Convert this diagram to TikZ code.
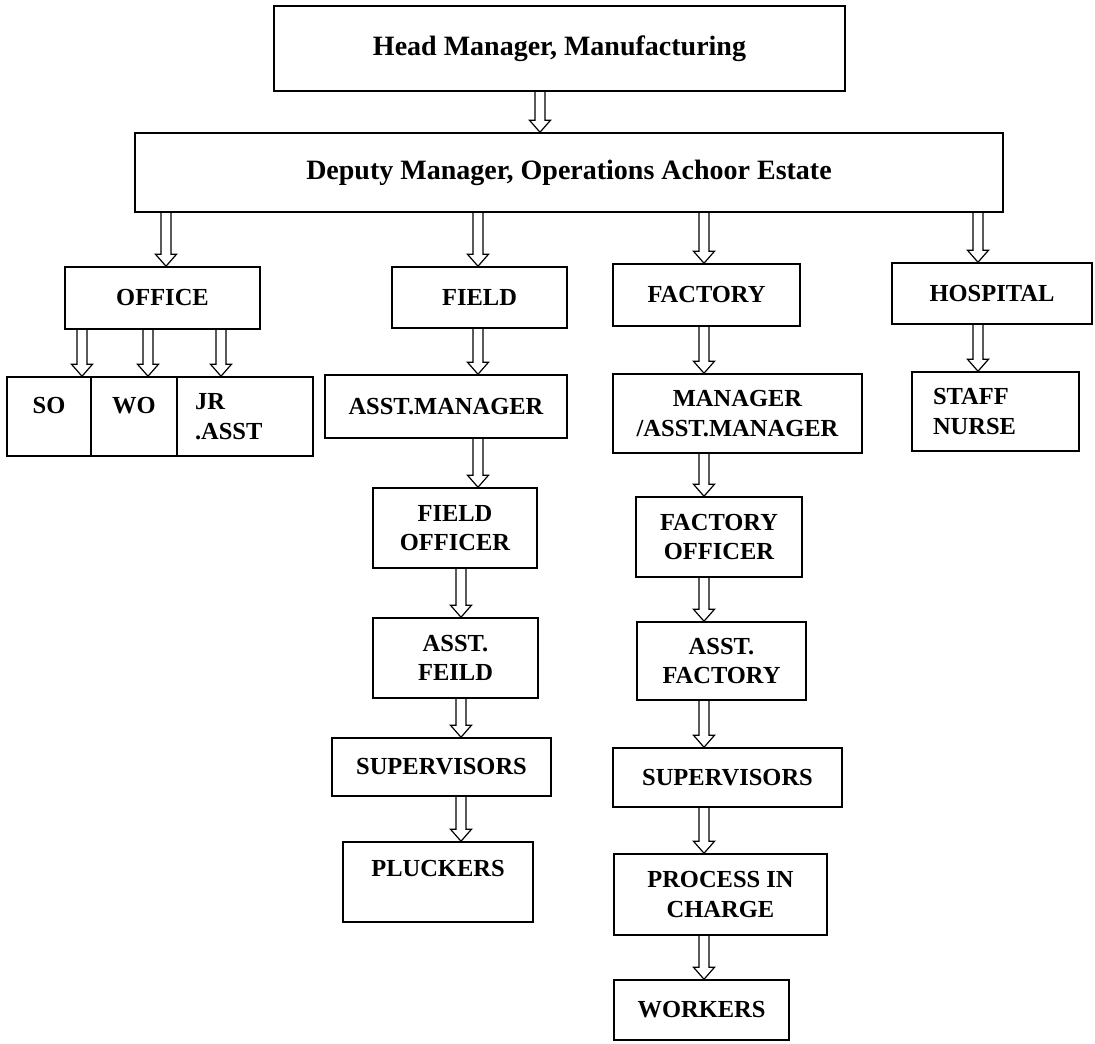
\documentclass[tikz,border=0pt]{standalone}
\usepackage{fontspec}
\setmainfont{Liberation Serif}
\usetikzlibrary{calc}

\tikzset{
  box/.style={draw, line width=1.5pt, align=center, inner sep=0pt,
              font=\fontsize{24.5}{29.5}\selectfont\bfseries},
  bigbox/.style={box, font=\fontsize{28}{33}\selectfont\bfseries},
  hollow/.style={line width=1.2pt, line join=miter,
    to path={let \p1=(\tikztostart), \p2=(\tikztotarget) in
      (\x1-5pt,\y1) -- (\x1-5pt,\y2+12pt) -- (\x1-10.5pt,\y2+12pt) -- (\x1,\y2)
      -- (\x1+10.5pt,\y2+12pt) -- (\x1+5pt,\y2+12pt) -- (\x1+5pt,\y1)}}
}

\begin{document}
\begin{tikzpicture}[x=1pt, y=-1pt]
  \fill[white] (0,0) rectangle (1095,1044);
  \useasboundingbox (0,0) rectangle (1095,1044);

  % top
  \node[bigbox, minimum width=571pt, minimum height=85pt] (head) at (559.5,48.5) {Head Manager, Manufacturing};
  \node[bigbox, minimum width=868pt, minimum height=79pt] (deputy) at (569,172.5) {Deputy Manager, Operations Achoor Estate};

  % departments
  \node[box, minimum width=195pt, minimum height=62pt] (office) at (162.5,298) {OFFICE};
  \node[box, minimum width=175pt, minimum height=61pt] (field) at (479.5,297.5) {FIELD};
  \node[box, minimum width=187pt, minimum height=62pt] (factory) at (706.5,295) {FACTORY};
  \node[box, minimum width=200pt, minimum height=61pt] (hospital) at (992,293.5) {HOSPITAL};

  % office
  \node[box, minimum width=84pt, minimum height=79pt, text depth=23pt] (so) at (49,416.5) {SO};
  \node[box, minimum width=86pt, minimum height=79pt, text depth=23pt] (wo) at (134,416.5) {WO};
  \node[box, align=left, text width=100pt, inner xsep=18pt, minimum height=79pt] (jr) at (245,416.5) {JR\\.ASST};

  % field
  \node[box, minimum width=242pt, minimum height=63pt] (asstman) at (446,406.5) {ASST.MANAGER};
  \node[box, minimum width=164pt, minimum height=80pt] (fieldoff) at (455,528) {FIELD\\OFFICER};
  \node[box, minimum width=165pt, minimum height=80pt] (asstfeild) at (455.5,658) {ASST.\\FEILD};
  \node[box, minimum width=219pt, minimum height=58pt] (supfield) at (441.5,767) {SUPERVISORS};
  \node[box, minimum width=190pt, minimum height=80pt, text depth=28pt] (pluckers) at (438,882) {PLUCKERS};

  % factory
  \node[box, minimum width=249pt, minimum height=79pt] (manager) at (737.5,413.5) {MANAGER\\/ASST.MANAGER};
  \node[box, minimum width=166pt, minimum height=80pt] (factoff) at (719,537) {FACTORY\\OFFICER};
  \node[box, minimum width=169pt, minimum height=78pt] (asstfact) at (721.5,661) {ASST.\\FACTORY};
  \node[box, minimum width=229pt, minimum height=59pt] (supfact) at (727.5,777.5) {SUPERVISORS};
  \node[box, minimum width=213pt, minimum height=81pt] (process) at (720.5,894.5) {PROCESS IN\\CHARGE};
  \node[box, minimum width=175pt, minimum height=60pt] (workers) at (701.5,1010) {WORKERS};

  % hospital
  \node[box, align=left, text width=125pt, inner xsep=21pt, minimum height=79pt] (staff) at (995.5,411.5) {STAFF\\NURSE};

  % arrow columns
  \coordinate (topcol) at (540,0);
  \coordinate (ocol) at (166,0);
  \coordinate (fcol) at (478,0);
  \coordinate (fcol2) at (461,0);
  \coordinate (kcol) at (704,0);
  \coordinate (hcol) at (978,0);
  \coordinate (socol) at (82,0);
  \coordinate (wocol) at (148,0);
  \coordinate (jrcol) at (221,0);

  \draw[hollow] (topcol |- head.south) to (topcol |- deputy.north);
  \draw[hollow] (ocol |- deputy.south) to (ocol |- office.north);
  \draw[hollow] (fcol |- deputy.south) to (fcol |- field.north);
  \draw[hollow] (kcol |- deputy.south) to (kcol |- factory.north);
  \draw[hollow] (hcol |- deputy.south) to (hcol |- hospital.north);

  \draw[hollow] (socol |- office.south) to (socol |- so.north);
  \draw[hollow] (wocol |- office.south) to (wocol |- wo.north);
  \draw[hollow] (jrcol |- office.south) to (jrcol |- jr.north);

  \draw[hollow] (fcol |- field.south) to (fcol |- asstman.north);
  \draw[hollow] (fcol |- asstman.south) to (fcol |- fieldoff.north);
  \draw[hollow] (fcol2 |- fieldoff.south) to (fcol2 |- asstfeild.north);
  \draw[hollow] (fcol2 |- asstfeild.south) to (fcol2 |- supfield.north);
  \draw[hollow] (fcol2 |- supfield.south) to (fcol2 |- pluckers.north);

  \draw[hollow] (kcol |- factory.south) to (kcol |- manager.north);
  \draw[hollow] (kcol |- manager.south) to (kcol |- factoff.north);
  \draw[hollow] (kcol |- factoff.south) to (kcol |- asstfact.north);
  \draw[hollow] (kcol |- asstfact.south) to (kcol |- supfact.north);
  \draw[hollow] (kcol |- supfact.south) to (kcol |- process.north);
  \draw[hollow] (kcol |- process.south) to (kcol |- workers.north);

  \draw[hollow] (hcol |- hospital.south) to (hcol |- staff.north);
\end{tikzpicture}
\end{document}
